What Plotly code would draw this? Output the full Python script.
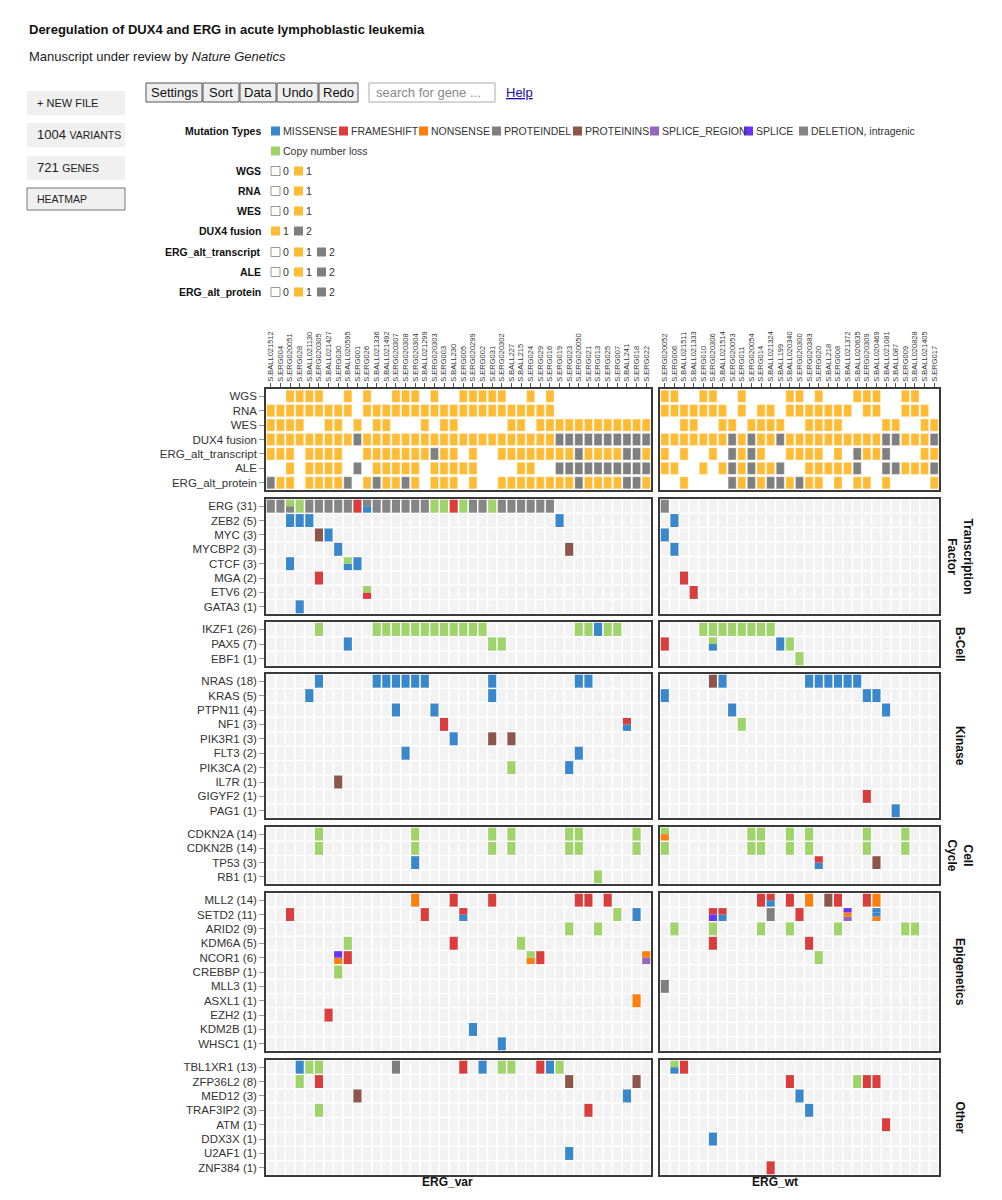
import plotly.graph_objects as go

# ---------------- DATA ----------------
samples_var = ["S.BALL021512", "S.ERG004", "S.ERG020051", "S.ERG028", "S.BALL021130", "S.ERG020305",
               "S.BALL021427", "S.ERG030", "S.BALL020595", "S.ERG001", "S.ERG026", "S.BALL021336",
               "S.BALL021492", "S.ERG020307", "S.ERG020308", "S.ERG020304", "S.BALL021299", "S.ERG020303",
               "S.ERG003", "S.BALL230", "S.ERG005", "S.ERG020299", "S.ERG002", "S.ERG031", "S.ERG020302",
               "S.BALL227", "S.BALL215", "S.ERG024", "S.ERG029", "S.ERG016", "S.ERG019", "S.ERG023",
               "S.ERG020050", "S.ERG021", "S.ERG013", "S.ERG025", "S.ERG007", "S.BALL241", "S.ERG018",
               "S.ERG022"]
samples_wt = ["S.ERG020052", "S.ERG006", "S.BALL021511", "S.BALL021333", "S.ERG010", "S.ERG020306",
              "S.BALL021514", "S.ERG020053", "S.ERG011", "S.ERG020054", "S.ERG014", "S.BALL021324",
              "S.BALL199", "S.BALL020340", "S.ERG020300", "S.ERG020383", "S.ERG020", "S.BALL218",
              "S.ERG008", "S.BALL021372", "S.BALL020635", "S.ERG020309", "S.BALL020469", "S.BALL021081",
              "S.BALL087", "S.ERG009", "S.BALL020828", "S.BALL021405", "S.ERG017"]

track_names = ["WGS", "RNA", "WES", "DUX4 fusion", "ERG_alt_transcript", "ALE", "ERG_alt_protein"]

WGS_var = [0,0,1,1,1,1,0,0,1,0, 1,0,0,1,1,1,0,1,0,0, 1,1,1,1,1,0,0,1,0,1, 0,0,0,0,0,0,0,0,0,0]
RNA_var = [1,1,1,1,1,1,1,1,1,0, 1,1,1,1,1,1,1,1,1,1, 1,1,1,1,1,1,1,1,1,1, 0,0,0,0,0,0,0,0,0,0]
WES_var = [1,1,1,1,0,0,1,1,0,1, 0,1,1,0,0,0,1,0,1,1, 0,0,0,0,0,1,1,0,1,1, 1,1,1,1,1,1,1,1,1,1]
DUX4_var = [1,1,1,1,1,1,1,1,1,2, 1,1,1,1,1,1,1,1,1,1, 1,1,1,1,1,1,1,1,1,1, 2,2,2,2,2,2,2,2,2,2]
TRANS_var = [1,1,1,0,1,1,1,1,0,0, 1,1,1,1,1,1,1,2,1,1, 0,1,0,0,1,1,1,1,1,1, 1,1,2,1,1,1,1,2,2,1]
ALE_var = [0,0,1,0,1,1,1,1,0,2, 0,1,1,1,1,1,0,1,1,1, 1,1,0,0,0,0,1,1,0,0, 2,2,2,2,2,2,2,2,2,2]
PROT_var = [2,1,1,0,1,1,1,1,2,0, 1,2,1,1,2,1,0,1,1,1, 0,1,0,0,1,1,1,1,1,1, 1,1,2,1,1,1,1,2,2,1]

WGS_wt = [1,1,0,0,1,1,0,0,1,0, 0,0,0,1,1,0,1,0,0,0, 1,1,1,0,0,1,1,0,0]
RNA_wt = [1,1,1,1,1,1,1,0,1,0, 1,1,0,1,1,1,1,1,1,1, 0,1,1,0,0,1,1,1,0]
WES_wt = [0,0,1,1,0,0,1,1,0,1, 1,1,1,0,0,1,1,1,1,0, 0,0,0,1,1,0,0,1,1]
DUX4_wt = [1,1,1,1,1,1,1,2,1,2, 1,1,2,1,1,1,1,1,1,1, 1,1,1,2,2,1,1,1,2]
TRANS_wt = [1,0,1,0,0,1,0,2,1,2, 1,0,0,1,1,1,1,0,1,0, 2,1,1,2,0,0,0,1,1]
ALE_wt = [1,1,0,0,1,0,1,2,1,2, 1,1,2,0,0,1,1,1,1,1, 2,0,0,2,2,1,1,1,2]
PROT_wt = [0,0,1,0,0,0,0,2,1,2, 1,2,2,1,2,1,1,0,1,0, 1,1,0,1,0,0,0,0,1]

# mutation class codes
mclass_names = {"M": "MISSENSE", "F": "FRAMESHIFT", "N": "NONSENSE", "P": "PROTEINDEL",
                "I": "PROTEININS", "R": "SPLICE_REGION", "S": "SPLICE",
                "D": "DELETION, intragenic", "C": "Copy number loss"}
mclass_colors = {"M": "#3987CC", "F": "#DB3D3D", "N": "#FF7F0E", "P": "#7F7F7F",
                 "I": "#8C564B", "R": "#9467BD", "S": "#6633FF", "D": "#858585", "C": "#9FD46B"}
track_colors = {1: "#FFBB33", 2: "#7F7F7F"}

tf_genes = ["ERG", "ZEB2", "MYC", "MYCBP2", "CTCF", "MGA", "ETV6", "GATA3"]
tf_counts = [31, 5, 3, 3, 3, 2, 2, 1]
bcell_genes = ["IKZF1", "PAX5", "EBF1"]
bcell_counts = [26, 7, 1]
kinase_genes = ["NRAS", "KRAS", "PTPN11", "NF1", "PIK3R1", "FLT3", "PIK3CA", "IL7R", "GIGYF2", "PAG1"]
kinase_counts = [18, 5, 4, 3, 3, 2, 2, 1, 1, 1]
cc_genes = ["CDKN2A", "CDKN2B", "TP53", "RB1"]
cc_counts = [14, 14, 3, 1]
epi_genes = ["MLL2", "SETD2", "ARID2", "KDM6A", "NCOR1", "CREBBP", "MLL3", "ASXL1", "EZH2", "KDM2B", "WHSC1"]
epi_counts = [14, 11, 9, 5, 6, 1, 1, 1, 1, 1, 1]
other_genes = ["TBL1XR1", "ZFP36L2", "MED12", "TRAF3IP2", "ATM", "DDX3X", "U2AF1", "ZNF384"]
other_counts = [13, 8, 3, 3, 1, 1, 1, 1]

# sample index -> mutation classes (stacked top to bottom)
mut_var = {
    "ERG": {0: "D", 1: "D", 2: "CD", 3: "C", 4: "D", 5: "D", 6: "D", 7: "D", 8: "D", 9: "F", 10: "DM",
            11: "D", 12: "D", 13: "D", 14: "D", 15: "D", 16: "D", 17: "C", 18: "C", 19: "F", 20: "C",
            21: "D", 22: "D", 23: "C", 24: "D", 25: "D", 26: "D", 27: "D", 28: "D", 29: "D"},
    "ZEB2": {2: "M", 3: "M", 4: "M", 30: "M"},
    "MYC": {5: "I", 6: "M"},
    "MYCBP2": {7: "M", 31: "I"},
    "CTCF": {2: "M", 8: "CM", 9: "M"},
    "MGA": {5: "F"},
    "ETV6": {10: "CF"},
    "GATA3": {3: "M"},
    "IKZF1": {5: "C", 11: "C", 12: "C", 13: "C", 14: "C", 15: "C", 16: "C", 17: "C", 18: "C", 19: "C",
              20: "C", 21: "C", 22: "C", 32: "C", 33: "C", 34: "M", 35: "C", 36: "C"},
    "PAX5": {8: "M", 23: "C", 24: "C"},
    "NRAS": {5: "M", 11: "M", 12: "M", 13: "M", 14: "M", 15: "M", 16: "M", 23: "M", 32: "M", 33: "M"},
    "KRAS": {4: "M", 23: "M"},
    "PTPN11": {13: "M", 17: "M"},
    "NF1": {18: "F", 37: "FM"},
    "PIK3R1": {19: "M", 23: "I", 25: "I"},
    "FLT3": {14: "M", 32: "M"},
    "PIK3CA": {25: "C", 31: "M"},
    "IL7R": {7: "I"},
    "CDKN2A": {5: "C", 15: "C", 23: "C", 25: "C", 31: "C", 32: "C", 38: "C"},
    "CDKN2B": {5: "C", 15: "C", 23: "C", 25: "C", 31: "C", 32: "C", 38: "C"},
    "TP53": {15: "M"},
    "RB1": {34: "C"},
    "MLL2": {15: "N", 19: "F", 23: "F", 32: "F", 33: "F", 35: "F"},
    "SETD2": {2: "F", 16: "F", 20: "FM", 36: "C", 38: "M"},
    "ARID2": {31: "C", 34: "C"},
    "KDM6A": {8: "C", 19: "F", 26: "C"},
    "NCOR1": {7: "SN", 8: "F", 27: "CN", 28: "F", 39: "NR"},
    "CREBBP": {7: "C"},
    "ASXL1": {38: "N"},
    "EZH2": {6: "F"},
    "KDM2B": {21: "M"},
    "WHSC1": {24: "M"},
    "TBL1XR1": {3: "M", 4: "C", 5: "C", 13: "P", 20: "F", 22: "M", 24: "C", 25: "C", 28: "F", 29: "M", 30: "C"},
    "ZFP36L2": {3: "C", 5: "F", 31: "I", 38: "I"},
    "MED12": {9: "I", 37: "M"},
    "TRAF3IP2": {5: "C", 33: "F"},
    "U2AF1": {31: "M"},
}
mut_wt = {
    "ERG": {0: "D"},
    "ZEB2": {1: "M"},
    "MYC": {0: "M"},
    "MYCBP2": {1: "M"},
    "MGA": {2: "F"},
    "ETV6": {3: "F"},
    "IKZF1": {4: "C", 5: "C", 6: "C", 7: "C", 8: "C", 9: "C", 10: "C", 11: "C"},
    "PAX5": {0: "F", 5: "CM", 12: "M", 13: "C"},
    "EBF1": {14: "C"},
    "NRAS": {5: "I", 6: "M", 15: "M", 16: "M", 17: "M", 18: "M", 19: "M", 20: "M"},
    "KRAS": {0: "M", 21: "M", 22: "M"},
    "PTPN11": {7: "M", 23: "M"},
    "NF1": {8: "C"},
    "GIGYF2": {21: "F"},
    "PAG1": {24: "M"},
    "CDKN2A": {0: "CN", 9: "C", 10: "C", 13: "C", 15: "C", 21: "C", 25: "C"},
    "CDKN2B": {0: "C", 9: "C", 10: "C", 13: "C", 15: "C", 21: "C", 25: "C"},
    "TP53": {16: "FM", 22: "I"},
    "MLL2": {10: "F", 11: "FM", 13: "F", 15: "N", 17: "I", 18: "F", 21: "F", 22: "N"},
    "SETD2": {5: "FS", 6: "FM", 11: "P", 14: "F", 19: "SNR", 22: "MMN"},
    "ARID2": {1: "C", 5: "C", 10: "C", 13: "C", 18: "C", 25: "C", 26: "C"},
    "KDM6A": {5: "F", 15: "F"},
    "NCOR1": {16: "C"},
    "MLL3": {0: "P"},
    "TBL1XR1": {1: "CM", 2: "F"},
    "ZFP36L2": {13: "F", 20: "C", 21: "F", 22: "F"},
    "MED12": {14: "M"},
    "TRAF3IP2": {15: "M"},
    "ATM": {23: "F"},
    "DDX3X": {5: "M"},
    "ZNF384": {11: "F"},
}

# ---------------- LAYOUT HELPERS ----------------
W, H = 986, 1184
OFF = 8


def fx(px):
    return (px - OFF) / W


def fy(py):
    return 1 - (py - OFF) / H


FONT = "Arial, Liberation Sans, sans-serif"
panel_x = {"var": (266, 651), "wt": (660, 939)}
blocks = [
    # name, genes, counts, top px, bottom px
    ("clinical", None, None, 389, 490),
    ("Transcription<br>Factor", tf_genes, tf_counts, 499, 614),
    ("B-Cell", bcell_genes, bcell_counts, 622, 666),
    ("Kinase", kinase_genes, kinase_counts, 674, 818),
    ("Cell<br>Cycle", cc_genes, cc_counts, 827, 884),
    ("Epigenetics", epi_genes, epi_counts, 893, 1051),
    ("Other", other_genes, other_counts, 1060, 1175),
]

clin_var = [WGS_var, RNA_var, WES_var, DUX4_var, TRANS_var, ALE_var, PROT_var]
clin_wt = [WGS_wt, RNA_wt, WES_wt, DUX4_wt, TRANS_wt, ALE_wt, PROT_wt]

fig = go.Figure()
layout_axes = {}
annotations = []
shapes = []

CW = 0.84   # cell width (data units)
CH = 0.90   # cell height
TH = 0.84   # track cell height

ax = 0
for group, samples, clin, muts in [("var", samples_var, clin_var, mut_var),
                                   ("wt", samples_wt, clin_wt, mut_wt)]:
    n = len(samples)
    x0, x1 = panel_x[group]
    for bi, (bname, genes, counts, top, bot) in enumerate(blocks):
        ax += 1
        xa = "x" if ax == 1 else "x%d" % ax
        ya = "y" if ax == 1 else "y%d" % ax
        if bname == "clinical":
            rows = track_names
            for val in (1, 2):
                xs, bs, hs = [], [], []
                for r, arr in enumerate(clin):
                    for c, v in enumerate(arr):
                        if v == val:
                            xs.append(c)
                            bs.append(r - TH / 2)
                            hs.append(TH)
                fig.add_trace(go.Bar(x=xs, y=hs, base=bs, width=CW, xaxis=xa, yaxis=ya,
                                     marker=dict(color=track_colors[val],
                                                 line=dict(width=0.6, color="rgba(255,255,255,0.6)")),
                                     hoverinfo="skip", showlegend=False))
        else:
            rows = ["%s (%d)" % (g, c) for g, c in zip(genes, counts)]
            # background cells
            xs, bs, hs = [], [], []
            for r in range(len(genes)):
                for c in range(n):
                    xs.append(c)
                    bs.append(r - CH / 2)
                    hs.append(CH)
            fig.add_trace(go.Bar(x=xs, y=hs, base=bs, width=CW, xaxis=xa, yaxis=ya,
                                 marker=dict(color="#F2F2F2", line=dict(width=0)),
                                 hoverinfo="skip", showlegend=False))
            segs = {k: ([], [], []) for k in mclass_colors}
            for r, g in enumerate(genes):
                for c, codes in muts.get(g, {}).items():
                    k = len(codes)
                    for j, code in enumerate(codes):
                        segs[code][0].append(c)
                        segs[code][1].append(r - CH / 2 + j * CH / k)
                        segs[code][2].append(CH / k)
            for code, (xs, bs, hs) in segs.items():
                if not xs:
                    continue
                fig.add_trace(go.Bar(x=xs, y=hs, base=bs, width=CW, xaxis=xa, yaxis=ya,
                                     marker=dict(color=mclass_colors[code], line=dict(width=0)),
                                     hoverinfo="skip", showlegend=False))
        nr = len(rows)
        xkey = "xaxis" if ax == 1 else "xaxis%d" % ax
        ykey = "yaxis" if ax == 1 else "yaxis%d" % ax
        xdict = dict(domain=[fx(x0), fx(x1)], anchor=ya, range=[-0.5, n - 0.5],
                     showgrid=False, zeroline=False, showline=True, mirror=True,
                     linecolor="#3a3a3a", linewidth=1.5, fixedrange=True)
        if bname == "clinical":
            xdict.update(side="top", tickmode="array", tickvals=list(range(n)), ticktext=samples,
                         tickangle=-90, tickfont=dict(family=FONT, size=7.5, color="#333"),
                         ticks="outside", ticklen=4, tickcolor="#555", tickwidth=0.8)
        else:
            xdict.update(showticklabels=False, ticks="")
        ydict = dict(domain=[fy(bot), fy(top)], anchor=xa, range=[nr - 0.5, -0.5],
                     showgrid=False, zeroline=False, showline=True, mirror=True,
                     linecolor="#3a3a3a", linewidth=1.5, fixedrange=True)
        if group == "var":
            ydict.update(tickmode="array", tickvals=list(range(nr)), ticktext=rows,
                         tickfont=dict(family=FONT, size=11.5, color="#333"),
                         ticks="outside", ticklen=5, tickcolor="#999", tickwidth=1)
        else:
            ydict.update(showticklabels=False, ticks="")
            if bname != "clinical":
                annotations.append(dict(x=fx(960), y=fy((top + bot) / 2), xref="paper", yref="paper",
                                        text="<b>%s</b>" % bname, textangle=90, showarrow=False,
                                        font=dict(family=FONT, size=12, color="#111"),
                                        xanchor="center", yanchor="middle"))
        layout_axes[xkey] = xdict
        layout_axes[ykey] = ydict

# group titles under panels
annotations.append(dict(x=fx(447), y=fy(1191), xref="paper", yref="paper", text="<b>ERG_var</b>",
                        showarrow=False, font=dict(family=FONT, size=12, color="#111"), yanchor="bottom"))
annotations.append(dict(x=fx(800), y=fy(1191), xref="paper", yref="paper", text="<b>ERG_wt</b>",
                        showarrow=False, font=dict(family=FONT, size=12, color="#111"), yanchor="bottom"))


# ---------------- HEADER ----------------
def text(x, y, t, size=13, color="#111", anchor="left"):
    annotations.append(dict(x=fx(x), y=fy(y), xref="paper", yref="paper", text=t, showarrow=False,
                            xanchor=anchor, yanchor="middle", font=dict(family=FONT, size=size, color=color)))


def rect(x0, y0, x1, y1, fill, line=None, lw=1):
    shapes.append(dict(type="rect", xref="paper", yref="paper", x0=fx(x0), x1=fx(x1), y0=fy(y1), y1=fy(y0),
                       fillcolor=fill, line=dict(color=line if line else fill, width=lw if line else 0)))


text(27, 30, "<b>Deregulation of DUX4 and ERG in acute lymphoblastic leukemia</b>", 13)
text(27, 57, "Manuscript under review by <i>Nature Genetics</i>", 13, "#222")

rect(27, 91, 125, 115, "#F0F0F0")
text(35, 103, "+ NEW FILE", 11, "#222")
rect(27, 123, 125, 147, "#F0F0F0")
text(35, 135, "1004 <span style='font-size:10.5px'>VARIANTS</span>", 13, "#222")
rect(27, 156, 125, 180, "#F0F0F0")
text(35, 168, "721 <span style='font-size:10.5px'>GENES</span>", 13, "#222")
rect(27, 188, 125, 210, "#F0F0F0", "#777", 1)
text(35, 199, "HEATMAP", 10.5, "#222")

btns = [("Settings", 146, 202), ("Sort", 203, 239), ("Data", 240, 276), ("Undo", 277, 318), ("Redo", 319, 358)]
for label, bx0, bx1 in btns:
    shapes.append(dict(type="rect", xref="paper", yref="paper", x0=fx(bx0), x1=fx(bx1), y0=fy(102), y1=fy(83),
                       fillcolor="#EFEFEF", line=dict(color="#555", width=1)))
    text((bx0 + bx1) / 2, 92.5, label, 13, "#111", "center")
rect(369, 83, 495, 102, "#FFFFFF", "#AAA", 1)
text(374, 92.5, "search for gene ...", 13, "#888")
text(504, 92.5, "<u>Help</u>", 13, "#1A0DAB")

# legend
text(263, 131, "<b>Mutation Types</b>", 10.5, "#111", "right")
leg_pos = [("M", 271), ("F", 339), ("N", 419), ("P", 492), ("I", 573), ("R", 650), ("S", 744), ("D", 799)]
for code, lx in leg_pos:
    rect(lx, 126.5, lx + 9, 135.5, mclass_colors[code])
    text(lx + 10, 131, mclass_names[code], 10.5, "#333")
rect(271, 146.5, 280, 155.5, mclass_colors["C"])
text(281, 151, mclass_names["C"], 10.5, "#333")

track_legend = [("WGS", 171, [0, 1]), ("RNA", 191, [0, 1]), ("WES", 211, [0, 1]), ("DUX4 fusion", 231, [1, 2]),
                ("ERG_alt_transcript", 252, [0, 1, 2]), ("ALE", 272, [0, 1, 2]), ("ERG_alt_protein", 292, [0, 1, 2])]
for name, ly, vals in track_legend:
    text(263, ly, "<b>%s</b>" % name, 10.5, "#111", "right")
    for k, v in enumerate(vals):
        lx = 271 + 23 * k
        if v == 0:
            rect(lx, ly - 4.5, lx + 9, ly + 4.5, "#FFFFFF", "#999", 1)
        else:
            rect(lx, ly - 4.5, lx + 9, ly + 4.5, track_colors[v])
        text(lx + 10, ly, str(v), 10.5, "#333")

fig.update_layout(width=W, height=H, autosize=False, margin=dict(l=0, r=0, t=0, b=0),
                  paper_bgcolor="white", plot_bgcolor="white", barmode="overlay",
                  annotations=annotations, shapes=shapes, showlegend=False,
                  font=dict(family=FONT), **layout_axes)
fig.write_html("out.html", config={"displayModeBar": False})
